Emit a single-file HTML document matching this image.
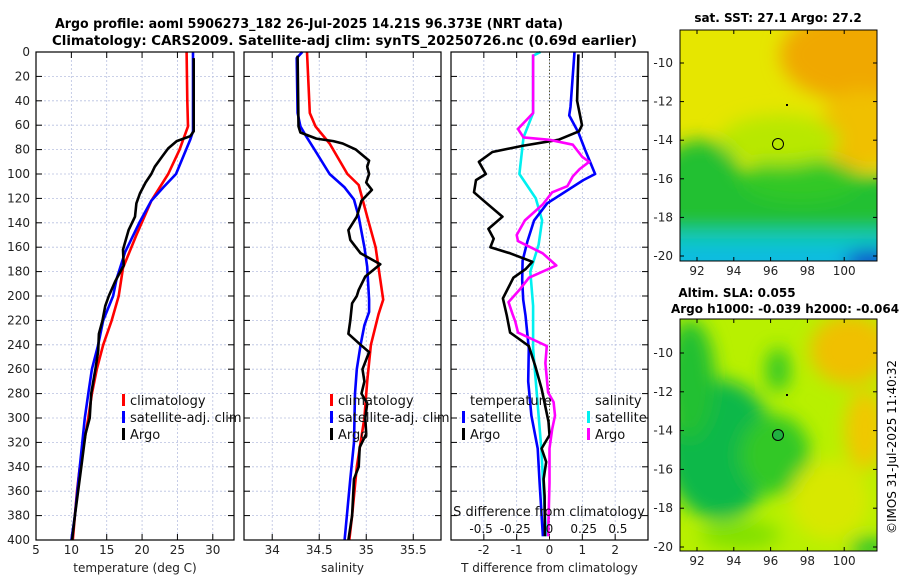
<!DOCTYPE html>
<html><head><meta charset="utf-8"><style>
html,body{margin:0;padding:0;background:#fff;}
svg{display:block;font-family:"DejaVu Sans","Liberation Sans",sans-serif;}
</style></head><body>
<svg id="fig" width="900" height="580" viewBox="0 0 900 580" xmlns="http://www.w3.org/2000/svg">
<defs>
<filter id="bl" x="-30%" y="-30%" width="160%" height="160%"><feGaussianBlur stdDeviation="9"/></filter>
<clipPath id="c1"><rect x="680" y="30" width="197" height="231"/></clipPath>
<clipPath id="c2"><rect x="680" y="319" width="197" height="232"/></clipPath>
</defs>
<text x="55" y="28" font-size="13" font-weight="bold" textLength="508" lengthAdjust="spacingAndGlyphs">Argo profile: aoml 5906273_182 26-Jul-2025 14.21S 96.373E (NRT data)</text>
<text x="52" y="45" font-size="13" font-weight="bold" textLength="585" lengthAdjust="spacingAndGlyphs">Climatology: CARS2009. Satellite-adj clim: synTS_20250726.nc (0.69d earlier)</text>

<g>
<g clip-path="url(#c1)">
<rect x="680" y="30" width="197" height="231" fill="#e6e600"/>
<g filter="url(#bl)">
<ellipse cx="850" cy="55" rx="70" ry="45" fill="#f0a800"/>
<ellipse cx="860" cy="130" rx="40" ry="40" fill="#f0c000"/>
<rect x="660" y="175" width="240" height="100" fill="#20c030"/>
<ellipse cx="700" cy="175" rx="40" ry="35" fill="#20c030"/>
<ellipse cx="800" cy="180" rx="60" ry="22" fill="#30c828"/>
<ellipse cx="780" cy="140" rx="60" ry="25" fill="#b8e800"/>
<rect x="660" y="230" width="240" height="50" fill="#10c8c0"/>
<rect x="660" y="250" width="240" height="20" fill="#10b8e8"/>
<ellipse cx="870" cy="262" rx="25" ry="12" fill="#1040d0"/>
</g>
</g>
<rect x="680" y="30" width="197" height="231" fill="none" stroke="#000" stroke-width="1"/>
<circle cx="778" cy="144" r="5.5" fill="none" stroke="#000" stroke-width="1"/>
<rect x="786" y="104" width="2" height="2" fill="#000"/>
</g>
<text x="778" y="22" font-size="12" font-weight="bold" text-anchor="middle">sat. SST: 27.1 Argo: 27.2</text>

<g>
<g clip-path="url(#c2)">
<rect x="680" y="319" width="197" height="232" fill="#b8f000"/>
<g filter="url(#bl)">
<ellipse cx="720" cy="450" rx="55" ry="70" fill="#10b848"/>
<ellipse cx="690" cy="380" rx="25" ry="60" fill="#20c030"/>
<ellipse cx="775" cy="455" rx="35" ry="40" fill="#30c828"/>
<ellipse cx="778" cy="370" rx="12" ry="22" fill="#30c828"/>
<ellipse cx="850" cy="350" rx="40" ry="35" fill="#f0c000"/>
<ellipse cx="865" cy="430" rx="20" ry="40" fill="#f0c800"/>
<ellipse cx="830" cy="500" rx="40" ry="40" fill="#d8e800"/>
<ellipse cx="870" cy="548" rx="20" ry="10" fill="#20c030"/>
<ellipse cx="740" cy="535" rx="40" ry="14" fill="#80e000"/>
</g>
</g>
<rect x="680" y="319" width="197" height="232" fill="none" stroke="#000" stroke-width="1"/>
<circle cx="778" cy="435" r="5.5" fill="#20b040" stroke="#000" stroke-width="1"/>
<rect x="786" y="394" width="2" height="2" fill="#000"/>
</g>
<text x="737" y="297" font-size="12" font-weight="bold" text-anchor="middle">Altim. SLA: 0.055</text>
<text x="785" y="313" font-size="12" font-weight="bold" text-anchor="middle">Argo h1000: -0.039 h2000: -0.064</text>
<text transform="translate(896,447) rotate(-90)" font-size="12" text-anchor="middle">©IMOS 31-Jul-2025 11:40:32</text>
</svg>
<script>
// ---- data ----
const tempClimDepth=[0,40,61,72,80,100,122,150,177,200,220,240,260,280,300,320,340,360,380,400];
const tempClim=[26.3,26.4,26.5,25.8,25.3,23.7,21.3,19.2,17.3,16.7,15.7,14.5,13.6,12.9,12.4,11.8,11.2,10.8,10.5,10.2];
const tempSatDepth=[0,65,72,100,111,122,139,164,186,200,220,240,260,280,300,340,380,400];
const tempSat=[27.2,27.2,26.8,24.8,23.0,21.3,19.7,17.6,16.4,15.9,14.5,13.8,12.9,12.4,11.9,11.2,10.5,10.0];
const tempArgoDepth=[5,65,69,73,79,86,94,100,107,116,124,135,146,162,175,188,200,208,220,231,245,260,280,300,313,340,380,400];
const tempArgo=[27.3,27.3,26.8,24.9,23.7,22.8,21.8,21.3,20.5,19.7,19.2,19.0,18.1,17.3,17.4,16.2,15.3,14.8,14.4,13.9,13.8,13.4,12.8,12.6,12.0,11.4,10.5,10.1];
const salClimDepth=[0,50,61,75,100,109,135,160,203,215,240,270,300,320,340,380,400];
const salClim=[34.37,34.40,34.46,34.61,34.80,34.92,35.01,35.10,35.18,35.13,35.05,35.01,34.98,34.94,34.90,34.85,34.82];
const salSatDepth=[0,5,50,61,69,80,100,111,121,135,160,176,203,213,224,240,260,280,320,350,400];
const salSat=[34.32,34.26,34.27,34.30,34.36,34.45,34.61,34.77,34.87,34.92,34.98,35.01,35.03,35.03,34.98,34.94,34.90,34.88,34.87,34.83,34.77];
const salArgoDepth=[3,61,66,71,73,75,80,89,94,100,107,113,122,135,146,154,165,174,184,195,200,206,220,231,240,246,260,270,280,288,300,313,324,340,350,380,400];
const salArgo=[34.27,34.28,34.30,34.47,34.65,34.75,34.89,35.03,35.01,35.03,35.00,35.06,34.95,34.90,34.81,34.83,34.94,35.15,34.99,34.92,34.90,34.85,34.83,34.81,34.94,35.03,34.96,34.98,34.95,35.01,34.99,35.00,34.93,34.92,34.87,34.85,34.81];
const dtArgoDepth=[2,40,60,65,72,77,82,90,100,105,115,122,135,145,153,160,165,172,178,185,202,216,230,241,257,276,303,314,325,336,350,364,397];
const dtArgo=[0.88,0.84,0.99,0.9,0.27,-0.83,-1.74,-2.15,-1.94,-2.24,-2.3,-2.0,-1.43,-1.86,-1.7,-1.8,-1.2,-0.52,-0.73,-1.1,-1.42,-1.3,-1.2,-0.63,-0.44,-0.24,-0.03,0.0,-0.24,-0.1,-0.18,-0.15,-0.14];
const dtSatDepth=[0,45,52,66,80,100,105,124,138,155,171,187,203,216,243,270,298,325,353,397];
const dtSat=[0.76,0.64,0.6,0.88,1.08,1.39,1.03,-0.07,-0.47,-0.67,-0.82,-0.83,-0.8,-0.73,-0.63,-0.65,-0.55,-0.36,-0.3,-0.2];
const dsSatDepth=[0,3,50,70,100,120,138,158,180,208,243,270,325,397];
const dsSat=[-0.066,-0.12,-0.12,-0.19,-0.22,-0.1,-0.054,-0.08,-0.14,-0.12,-0.12,-0.1,-0.06,-0.025];
const dsArgoDepth=[2,50,63,70,72,76,86,90,96,102,110,115,125,138,150,155,165,175,180,185,195,205,215,221,230,241,255,279,287,298,309,325,353,397];
const dsArgo=[-0.12,-0.12,-0.23,-0.19,0.0,0.17,0.24,0.29,0.22,0.17,0.13,0.02,-0.05,-0.18,-0.24,-0.23,-0.05,0.05,-0.05,-0.15,-0.22,-0.3,-0.27,-0.25,-0.23,-0.02,-0.03,-0.01,0.03,0.04,0.02,0.0,0.0,-0.01];
const depthTicks=[0,20,40,60,80,100,120,140,160,180,200,220,240,260,280,300,320,340,360,380,400];
const tempTicks=[5,10,15,20,25,30];
const salTicks=[34,34.5,35,35.5];
const dtTicks=[-2,-1,0,1,2];
const dsTicks=[-0.5,-0.25,0,0.25,0.5];
const dsTickLabels=["-0.5","-0.25","0","0.25","0.5"];
const latTicks=[-10,-12,-14,-16,-18,-20];
const lonTicks=[92,94,96,98,100];

// ---- helpers ----
const NS="http://www.w3.org/2000/svg";
const svg=document.getElementById('fig');
function mk(tag,attrs,parent){const e=document.createElementNS(NS,tag);for(const k in attrs)e.setAttribute(k,attrs[k]);(parent||svg).appendChild(e);return e;}
const Y0=52,Y1=540;
const yD=d=>Y0+(Y1-Y0)*d/400;
function axis(x0,x1,lo,hi){return v=>x0+(x1-x0)*(v-lo)/(hi-lo);}
const xT=axis(36,234,5,33.0);
const xS=axis(244,441,33.7,35.795);
const xDT=axis(451,648,-3,3);
const xDS=axis(451,648,-0.72,0.72);

function panel(name,x0,x1,xs,ticks,labels,xlabel){
  const g=mk('g',{});
  
  
  depthTicks.forEach(d=>{mk('line',{x1:x0,x2:x1,y1:yD(d),y2:yD(d),stroke:'#b8c0e0','stroke-width':0.8,'stroke-dasharray':'2,2'},g);
    mk('line',{x1:x0,x2:x0+6,y1:yD(d),y2:yD(d),stroke:'#000','stroke-width':1},g);
    mk('line',{x1:x1-6,x2:x1,y1:yD(d),y2:yD(d),stroke:'#000','stroke-width':1},g);});
  ticks.forEach((t,i)=>{const x=xs(t);
    mk('line',{x1:x,x2:x,y1:Y0,y2:Y1,stroke:'#b8c0e0','stroke-width':0.8,'stroke-dasharray':'2,2'},g);
    mk('line',{x1:x,x2:x,y1:Y1-6,y2:Y1,stroke:'#000'},g);
    mk('line',{x1:x,x2:x,y1:Y0,y2:Y0+6,stroke:'#000'},g);
    const tx=mk('text',{x:x,y:554,'font-size':12,'text-anchor':'middle',fill:'#222'},g);tx.textContent=labels[i];
    
    });
  const xl=mk('text',{x:(x0+x1)/2,y:572,'font-size':12,'text-anchor':'middle',fill:'#222'},g);xl.textContent=xlabel;
  
  
  return g;
}
function frame(x0,x1){mk('rect',{x:x0,y:Y0,width:x1-x0,height:Y1-Y0,fill:'none',stroke:'#000','stroke-width':1.2});}
function line(xs,xv,dv,color,name,w){
  const p=xv.map((v,i)=>xs(v).toFixed(1)+','+yD(dv[i]).toFixed(1)).join(' ');
  const e=mk('polyline',{points:p,fill:'none',stroke:color,'stroke-width':w||2.6,'stroke-linejoin':'round'});
  
  
}
function txt(x,y,s,opts,name){const t=mk('text',Object.assign({x:x,y:y,'font-size':12,fill:'#111'},opts||{}));t.textContent=s;
  
  return t;}

depthTicks.forEach(d=>{const t=txt(30,yD(d)+4,String(d),{'text-anchor':'end',fill:'#222'});
  });

panel('temperature-panel',36,234,xT,tempTicks,tempTicks.map(String),'temperature (deg C)');
line(xT,tempClim,tempClimDepth,'#ff0000','temp-climatology-line');
line(xT,tempSat,tempSatDepth,'#0000ff','temp-satellite-line');
line(xT,tempArgo,tempArgoDepth,'#000000','temp-argo-line');
frame(36,234);
panel('salinity-panel',244,441,xS,salTicks,salTicks.map(String),'salinity');
line(xS,salClim,salClimDepth,'#ff0000','sal-climatology-line');
line(xS,salSat,salSatDepth,'#0000ff','sal-satellite-line');
line(xS,salArgo,salArgoDepth,'#000000','sal-argo-line');
frame(244,441);
panel('difference-panel',451,648,xDT,dtTicks,dtTicks.map(String),'T difference from climatology');
mk('line',{x1:xDT(0),x2:xDT(0),y1:Y0,y2:Y1,stroke:'#555533','stroke-width':1,'stroke-dasharray':'1.5,2'});
line(xDS,dsSat,dsSatDepth,'#00f0f0','sal-diff-satellite-line');
line(xDT,dtSat,dtSatDepth,'#0000ff','temp-diff-satellite-line');
line(xDT,dtArgo,dtArgoDepth,'#000000','temp-diff-argo-line');
line(xDS,dsArgo,dsArgoDepth,'#ff00ff','sal-diff-argo-line');
frame(451,648);
txt(549,516,'S difference from climatology',{'text-anchor':'middle','font-size':13},'s-axis-title');
dsTicks.forEach((t,i)=>{txt(xDS(t),533,dsTickLabels[i],{'text-anchor':'middle','font-size':12},'s-tick-label');});

function leg(x,y,color,label,name){
  const g=mk('g',{});
  
  
  mk('rect',{x:x,y:y-11,width:3,height:12,fill:color},g);
  const t=mk('text',{x:x+8,y:y,'font-size':13,fill:'#111'},g);t.textContent=label;
}
leg(122,405,'#ff0000','climatology','legend-climatology');
leg(122,422,'#0000ff','satellite-adj. clim','legend-satellite-adj');
leg(122,439,'#000000','Argo','legend-argo');
leg(330,405,'#ff0000','climatology','legend-sal-climatology');
leg(330,422,'#0000ff','satellite-adj. clim','legend-sal-satellite-adj');
leg(330,439,'#000000','Argo','legend-sal-argo');
txt(470,405,'temperature',{'font-size':13},'legend-temperature-heading');
txt(595,405,'salinity',{'font-size':13},'legend-salinity-heading');
leg(462,422,'#0000ff','satellite','legend-temp-satellite');
leg(462,439,'#000000','Argo','legend-temp-argo');
leg(587,422,'#00f0f0','satellite','legend-sal-satellite');
leg(587,439,'#ff00ff','Argo','legend-sal-argo-diff');

const lonX=l=>697+(l-92)*18.4;
function mapAxes(top,bot,latY,name){
  latTicks.forEach(l=>{const y=latY(l);
    mk('line',{x1:680,x2:684,y1:y,y2:y,stroke:'#000'});mk('line',{x1:873,x2:877,y1:y,y2:y,stroke:'#000'});
    txt(673,y+4,String(l),{'text-anchor':'end',fill:'#222'},name+'-lat-label');});
  lonTicks.forEach(l=>{const x=lonX(l);
    mk('line',{x1:x,x2:x,y1:bot-4,y2:bot,stroke:'#000'});mk('line',{x1:x,x2:x,y1:top,y2:top+4,stroke:'#000'});
    txt(x,bot+14,String(l),{'text-anchor':'middle',fill:'#222'},name+'-lon-label');});
}
mapAxes(30,261,l=>63+(-10-l)*19.3,'sst-map');
mapAxes(319,551,l=>353+(-10-l)*19.4,'sla-map');
</script>
</body></html>
